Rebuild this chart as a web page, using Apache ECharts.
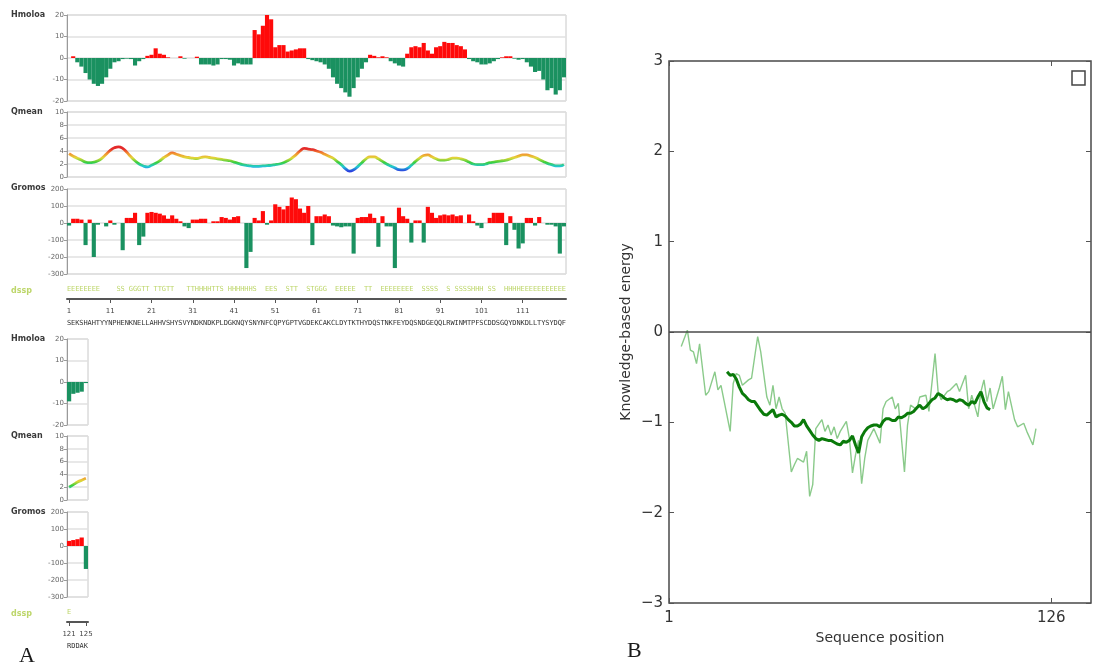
<!DOCTYPE html>
<html>
<head>
<meta charset="utf-8">
<script src="https://cdn.jsdelivr.net/npm/echarts@6/dist/echarts.min.js"></script>
<style>
html, body { margin: 0; padding: 0; background: #fff; }
#main { width: 1094px; height: 666px; }
</style>
</head>
<body>
<div id="main"></div>
<script>
/*********************** 数据 *******************************/
// A: residues 1-121 (main panel) and the short tail panel
var hmoloaMain = [
    0, 0.8, -2, -4, -7, -10, -12, -13, -12, -9,
    -5, -2, -1.5, -0.5, -0.3, -0.5, -3.5, -1.5, -0.5, 1,
    1.5, 4.5, 2, 1.5, 0.3, 0, 0, 0.8, -0.3, 0,
    0, 0.6, -3, -3, -3, -3.5, -3, -0.5, -0.5, -0.8,
    -3.5, -2.5, -3, -3, -3, 13, 11, 15, 20, 18,
    5, 6, 6, 3, 3.5, 4, 4.5, 4.5, -0.5, -1,
    -1.5, -2, -3, -5, -9, -12, -14, -16, -18, -14,
    -9, -5, -2, 1.5, 1, 0.3, 0.8, 0.3, -1.5, -2.5,
    -3.5, -4, 2, 5, 5.5, 5, 7, 3.5, 2, 5,
    5.5, 7.5, 7, 7, 6, 5.5, 4, -0.5, -1.5, -2,
    -3, -3, -2.5, -1.5, -0.5, 0.3, 0.8, 0.8, -0.3, -0.8,
    -0.5, -2, -4, -6.5, -6, -10, -15, -14, -17, -15, -9
];
var qmeanMain = [
    3.6, 3.2, 2.9, 2.6, 2.3, 2.2, 2.3, 2.5, 2.9, 3.5,
    4.1, 4.5, 4.65, 4.4, 3.8, 3.1, 2.5, 2.0, 1.7, 1.55,
    1.8, 2.1, 2.5, 3.0, 3.4, 3.7, 3.5, 3.3, 3.1, 3.0,
    2.9, 2.85, 3.0, 3.1, 3.0, 2.9, 2.8, 2.7, 2.6, 2.5,
    2.3, 2.1, 1.9, 1.8, 1.7, 1.65, 1.65, 1.7, 1.75, 1.8,
    1.9, 2.0, 2.2, 2.5, 2.9, 3.4, 4.0, 4.4, 4.3, 4.2,
    4.0, 3.8, 3.5, 3.2, 2.9, 2.4, 1.9, 1.3, 0.9, 1.1,
    1.6, 2.2, 2.8, 3.1, 3.1, 2.8, 2.4, 2.0, 1.7, 1.4,
    1.15, 1.1, 1.3, 1.8, 2.4, 2.9, 3.3, 3.4, 3.1, 2.8,
    2.6, 2.6, 2.7, 2.9, 2.9, 2.8, 2.6, 2.3, 2.0, 1.9,
    1.9, 2.0, 2.2, 2.3, 2.4, 2.5, 2.6, 2.8, 3.0, 3.2,
    3.4, 3.4, 3.2, 3.0, 2.7, 2.4, 2.1, 1.9, 1.7, 1.7, 1.9
];
var gromosMain = [
    -15, 25, 25, 20, -130, 20, -200, -10, 0, -20,
    15, -10, 0, -160, 30, 30, 60, -130, -80, 60,
    65, 60, 55, 45, 25, 45, 25, 10, -20, -30,
    20, 20, 25, 25, 0, 10, 10, 35, 30, 20,
    35, 40, 0, -265, -170, 30, 15, 70, -10, 15,
    110, 95, 80, 100, 150, 140, 85, 60, 100, -130,
    40, 40, 50, 40, -15, -20, -25, -20, -20, -180,
    30, 35, 35, 55, 30, -140, 40, -20, -20, -265,
    90, 40, 25, -115, 15, 15, -115, 95, 60, 30,
    45, 50, 45, 50, 40, 45, 0, 50, 10, -15,
    -30, 0, 30, 60, 60, 60, -130, 40, -40, -150,
    -120, 30, 30, -15, 35, 0, -10, -10, -20, -180, -20
];
var seqMain = 'SEKSHAHTYYNPHENKNELLAHHVSHYSVYNDKNDKPLDGKNQYSNYNFCQPYGPTVGDEKCAKCLDYTKTHYDQSTNKFEYDQSNDGEQQLRWINMTPFSCDDSGQYDNKDLLTYSYDQF';
var dsspMain = 'EEEEEEEE    SS GGGTT TTGTT   TTHHHHTTS HHHHHHS  EES  STT  STGGG  EEEEE  TT  EEEEEEEE  SSSS  S SSSSHHH SS  HHHHEEEEEEEEEEE';

var tailLabels = ['121', '122', '123', '124', '125'];
var hmoloaTail = [-9, -5.5, -5, -4.5, -0.5];
var qmeanTail = [2.0, 2.4, 2.8, 3.1, 3.4];
var gromosTail = [30, 35, 40, 50, -135];
var seqTail = 'RDDAK';
var dsspTail = 'E    ';

// B: knowledge-based energy, window 10 (thin) and window 40 (thick)
var thinPos = [5, 7, 8, 9, 10, 11, 13, 14, 16, 17, 18, 21, 22, 23, 24, 25, 27, 28, 30, 31,
    33, 34, 35, 36, 37, 38, 39, 41, 42, 43, 45, 46, 47, 48, 49, 51, 52, 53, 54, 55,
    56, 57, 59, 60, 61, 62, 63, 64, 65, 66, 68, 70, 71, 72, 74, 75, 76, 78, 79, 80,
    82, 83, 85, 86, 88, 89, 90, 92, 93, 95, 96, 98, 99, 100, 102, 103, 104, 105, 106, 107,
    109, 110, 111, 112, 114, 115, 117, 118, 120, 121];
var thinVal = [-0.16, 0.02, -0.2, -0.22, -0.35, -0.13, -0.70, -0.66, -0.44, -0.64, -0.59, -1.10, -0.57, -0.46, -0.48, -0.59, -0.53, -0.51, -0.05, -0.22,
    -0.72, -0.81, -0.59, -0.85, -0.72, -0.85, -0.90, -1.55, -1.47, -1.40, -1.44, -1.32, -1.82, -1.69, -1.07, -0.97, -1.10, -1.03, -1.14, -1.05,
    -1.18, -1.10, -0.99, -1.18, -1.56, -1.36, -1.20, -1.68, -1.40, -1.20, -1.07, -1.23, -0.85, -0.77, -0.72, -0.85, -0.79, -1.55, -1.03, -0.81,
    -0.86, -0.72, -0.70, -0.88, -0.24, -0.66, -0.75, -0.66, -0.64, -0.57, -0.66, -0.48, -0.85, -0.70, -0.94, -0.66, -0.53, -0.77, -0.62, -0.85,
    -0.62, -0.49, -0.86, -0.66, -0.97, -1.05, -1.01, -1.10, -1.25, -1.07];
var thickStart = 20;
var thickVal = [-0.44, -0.48, -0.47, -0.52, -0.61, -0.68, -0.71, -0.75, -0.77, -0.77,
    -0.82, -0.87, -0.91, -0.92, -0.89, -0.86, -0.94, -0.92, -0.91, -0.93,
    -0.97, -1.00, -1.04, -1.04, -1.02, -0.97, -1.04, -1.09, -1.14, -1.18,
    -1.20, -1.18, -1.19, -1.20, -1.20, -1.22, -1.24, -1.25, -1.21, -1.22,
    -1.20, -1.15, -1.25, -1.34, -1.16, -1.10, -1.06, -1.04, -1.03, -1.03,
    -1.05, -0.99, -0.96, -0.96, -0.98, -0.98, -0.94, -0.95, -0.93, -0.90,
    -0.90, -0.88, -0.84, -0.81, -0.85, -0.83, -0.79, -0.75, -0.73, -0.68,
    -0.70, -0.73, -0.75, -0.74, -0.75, -0.77, -0.75, -0.76, -0.79, -0.81,
    -0.77, -0.79, -0.72, -0.66, -0.77, -0.84, -0.86];
var energyTicks = [1, 126];

/*********************** 样式 *******************************/
var RED = '#ff0a0a';
var GREEN = '#1a9160';
var DSSP_COLOR = '#bdd66a';

var residues = [];
for (var i = 0; i < hmoloaMain.length; i++) {
    residues.push(String(i + 1));
}
var thinData = thinPos.map(function (p, k) { return [p, thinVal[k]]; });
var thickData = thickVal.map(function (v, k) { return [thickStart + k, v]; });

function signColor(p) {
    return p.value >= 0 ? RED : GREEN;
}

function hiddenX(grid, cats) {
    return { type: 'category', gridIndex: grid, data: cats, show: false, boundaryGap: true };
}

function panelY(grid, min, max, step) {
    return {
        type: 'value', gridIndex: grid, min: min, max: max, interval: step,
        axisLine: { show: true, lineStyle: { color: '#9a9a9a' } },
        axisTick: { show: true, length: 3, lineStyle: { color: '#9a9a9a' } },
        axisLabel: { fontSize: 7, color: '#666', margin: 3, fontFamily: 'DejaVu Sans' },
        splitLine: { show: true, lineStyle: { color: '#e0e0e0', width: 1.5 } }
    };
}

function panelGrid(left, top, width, height) {
    return { left: left, top: top, width: width, height: height, show: true,
        borderColor: '#c8c8c8', borderWidth: 1, backgroundColor: 'transparent' };
}

// 残基轴: 数字 / 序列 / dssp
function seqAxes(grid, cats, seq, dssp, shown) {
    return [
        {
            type: 'category', gridIndex: grid, data: cats, position: 'bottom', boundaryGap: true,
            axisLine: { show: true, lineStyle: { color: '#555', width: 2 } },
            axisTick: { show: true, interval: shown, alignWithLabel: true, length: 4, lineStyle: { color: '#555' } },
            axisLabel: { interval: shown, fontSize: 7, color: '#444', margin: 9, fontFamily: 'DejaVu Sans' }
        },
        {
            type: 'category', gridIndex: grid, data: seq.split(''), position: 'bottom', offset: 19, boundaryGap: true,
            axisLine: { show: false }, axisTick: { show: false },
            axisLabel: { interval: 0, fontSize: 7, color: '#333', margin: 2, fontFamily: 'DejaVu Sans Mono' }
        },
        {
            type: 'category', gridIndex: grid, data: dssp.split(''), position: 'top', boundaryGap: true,
            axisLine: { show: false }, axisTick: { show: false },
            axisLabel: { interval: 0, fontSize: 7, color: DSSP_COLOR, margin: 3, fontFamily: 'DejaVu Sans Mono' }
        }
    ];
}

// 主图每 10 个残基标注一次 (1, 11, ... 111)
function mainTickShown(idx) {
    return idx % 10 === 0 && idx < 120;
}
function tailTickShown(idx) {
    return idx === 0 || idx === 4;
}

function rowLabel(text, x, y, color) {
    return {
        type: 'text', left: x, top: y,
        style: { text: text, fontSize: 8, fontWeight: 'bold', fill: color || '#3a3a3a', fontFamily: 'DejaVu Sans' }
    };
}

function minusFmt(v) {
    return v < 0 ? '\u2212' + Math.abs(v) : String(v);
}

var chart = echarts.init(document.getElementById('main'));

// x 轴顺序: 0-2 主图, 3-5 主图残基轴, 6-8 尾图, 9-11 尾图残基轴, 12-13 B 图
var option = {
    animation: false,
    backgroundColor: '#fff',
    grid: [
        panelGrid(67, 15, 499, 86),
        panelGrid(67, 112, 499, 65),
        panelGrid(67, 189, 499, 85),
        { left: 67, top: 296, width: 499, height: 3, show: false },
        panelGrid(67, 339, 21, 86),
        panelGrid(67, 436, 21, 64),
        panelGrid(67, 512, 21, 85),
        { left: 67, top: 619, width: 21, height: 3, show: false },
        { left: 669, top: 61, width: 422, height: 542, show: true, borderColor: '#4a4a4a', borderWidth: 1.5 }
    ],
    xAxis: [
        hiddenX(0, residues), hiddenX(1, residues), hiddenX(2, residues)
    ].concat(seqAxes(3, residues, seqMain, dsspMain, mainTickShown))
     .concat([hiddenX(4, tailLabels), hiddenX(5, tailLabels), hiddenX(6, tailLabels)])
     .concat(seqAxes(7, tailLabels, seqTail, dsspTail, tailTickShown))
     .concat([
        {
            type: 'value', gridIndex: 8, min: 1, max: 139,
            name: 'Sequence position', nameLocation: 'middle', nameGap: 27,
            nameTextStyle: { fontSize: 14, color: '#333', fontFamily: 'DejaVu Sans' },
            axisLine: { show: false, onZero: false },
            axisTick: { show: true, inside: true, length: 5, customValues: energyTicks, lineStyle: { color: '#555' } },
            axisLabel: { customValues: energyTicks, fontSize: 15, color: '#333', margin: 8, fontFamily: 'DejaVu Sans' },
            splitLine: { show: false }
        },
        {
            type: 'value', gridIndex: 8, min: 1, max: 139, position: 'top',
            axisLine: { show: false, onZero: false },
            axisTick: { show: true, inside: true, length: 5, customValues: energyTicks, lineStyle: { color: '#555' } },
            axisLabel: { show: false },
            splitLine: { show: false }
        }
    ]),
    yAxis: [
        panelY(0, -20, 20, 10),
        panelY(1, 0, 10, 2),
        panelY(2, -300, 200, 100),
        { type: 'value', gridIndex: 3, show: false },
        panelY(4, -20, 20, 10),
        panelY(5, 0, 10, 2),
        panelY(6, -300, 200, 100),
        { type: 'value', gridIndex: 7, show: false },
        {
            type: 'value', gridIndex: 8, min: -3, max: 3, interval: 1,
            name: 'Knowledge-based energy', nameLocation: 'middle', nameGap: 36, nameRotate: 90,
            nameTextStyle: { fontSize: 14, color: '#333', fontFamily: 'DejaVu Sans' },
            axisLine: { show: false, onZero: false },
            axisTick: { show: true, inside: true, length: 5, lineStyle: { color: '#555' } },
            axisLabel: { formatter: minusFmt, fontSize: 15, color: '#333', margin: 6, fontFamily: 'DejaVu Sans' },
            splitLine: { show: false }
        },
        {
            type: 'value', gridIndex: 8, min: -3, max: 3, interval: 1, position: 'right',
            axisLine: { show: false, onZero: false },
            axisTick: { show: true, inside: true, length: 5, lineStyle: { color: '#555' } },
            axisLabel: { show: false },
            splitLine: { show: false }
        }
    ],
    visualMap: [{
        type: 'continuous', show: false, seriesIndex: [1, 4], dimension: 1,
        min: 0.9, max: 4.3,
        inRange: { color: ['#2a3fe0', '#22c8d8', '#3ccf3c', '#e2d83a', '#f29030', '#e42a2a'] }
    }],
    series: [
        { type: 'bar', xAxisIndex: 0, yAxisIndex: 0, data: hmoloaMain, barCategoryGap: '0%',
          itemStyle: { color: signColor } },
        { type: 'line', xAxisIndex: 1, yAxisIndex: 1, data: qmeanMain, smooth: true, symbol: 'none',
          lineStyle: { width: 2.8 } },
        { type: 'bar', xAxisIndex: 2, yAxisIndex: 2, data: gromosMain, barCategoryGap: '0%',
          itemStyle: { color: signColor } },
        { type: 'bar', xAxisIndex: 6, yAxisIndex: 4, data: hmoloaTail, barCategoryGap: '0%',
          itemStyle: { color: signColor } },
        { type: 'line', xAxisIndex: 7, yAxisIndex: 5, data: qmeanTail, smooth: true, symbol: 'none',
          lineStyle: { width: 2.8 } },
        { type: 'bar', xAxisIndex: 8, yAxisIndex: 6, data: gromosTail, barCategoryGap: '0%',
          itemStyle: { color: signColor } },
        {
            type: 'line', xAxisIndex: 12, yAxisIndex: 8, data: thinData, symbol: 'none',
            lineStyle: { color: '#4cae4c', width: 1.4, opacity: 0.65 },
            markLine: {
                silent: true, symbol: 'none', label: { show: false },
                lineStyle: { color: '#4a4a4a', width: 1.5, type: 'solid' },
                data: [{ yAxis: 0 }]
            }
        },
        {
            type: 'line', xAxisIndex: 12, yAxisIndex: 8, data: thickData, symbol: 'none',
            lineStyle: { color: '#0a7a0a', width: 3 }
        }
    ],
    graphic: [
        rowLabel('Hmoloa', 11, 11),
        rowLabel('Qmean', 11, 108),
        rowLabel('Gromos', 11, 184),
        rowLabel('dssp', 11, 287, DSSP_COLOR),
        rowLabel('Hmoloa', 11, 335),
        rowLabel('Qmean', 11, 432),
        rowLabel('Gromos', 11, 508),
        rowLabel('dssp', 11, 610, DSSP_COLOR),
        { type: 'rect', shape: { x: 1072, y: 71, width: 13, height: 14 },
          style: { fill: '#fff', stroke: '#444', lineWidth: 1.5 } },
        { type: 'text', left: 19, top: 645,
          style: { text: 'A', fontSize: 22, fill: '#1a1a1a', fontFamily: 'Liberation Serif' } },
        { type: 'text', left: 627, top: 640,
          style: { text: 'B', fontSize: 22, fill: '#1a1a1a', fontFamily: 'Liberation Serif' } }
    ]
};

chart.setOption(option);
</script>
</body>
</html>
